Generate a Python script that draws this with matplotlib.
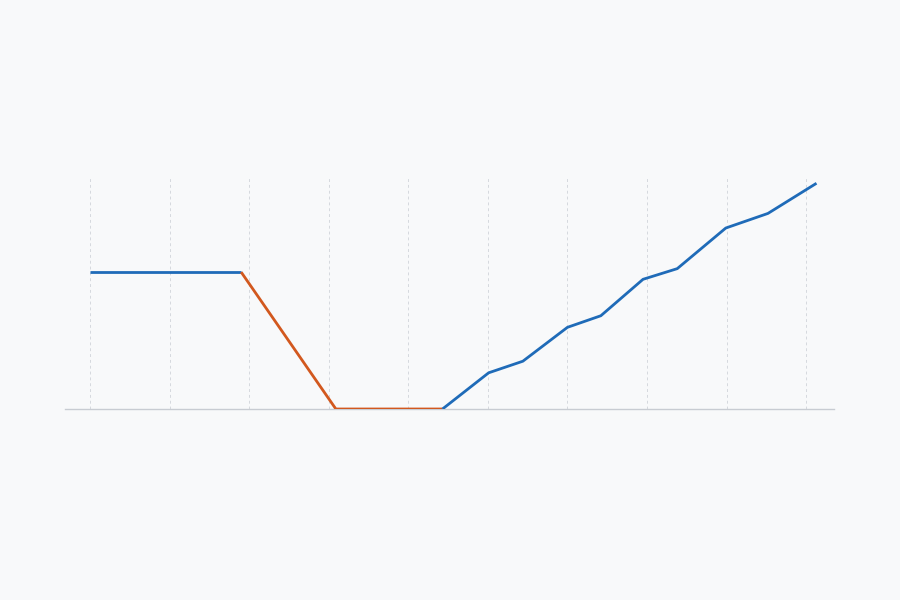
import matplotlib
matplotlib.use("Agg")
import matplotlib.pyplot as plt

# x positions in tick units (ticks at 0..9), y values in arbitrary units
blue1_x = [0.0, 1.9]
blue1_y = [5.9, 5.9]
orange_x = [1.9, 3.09, 4.43]
orange_y = [5.9, 0.0, 0.0]
blue2_x = [4.43, 5.01, 5.44, 6.0, 6.42, 6.95, 7.38, 7.99, 8.52, 9.13]
blue2_y = [0.0, 1.56, 2.06, 3.52, 4.02, 5.59, 6.05, 7.8, 8.43, 9.73]
grid_ticks = list(range(10))

BG = "#f8f9fa"
BLUE = "#1f6bb8"
ORANGE = "#d2581e"

fig = plt.figure(figsize=(9, 6), dpi=100, facecolor=BG)
ax = fig.add_axes([65/900, 1-409/600, (834-65)/900, (409-177)/600])
ax.set_facecolor(BG)

ax.plot(blue1_x, blue1_y, color=BLUE, lw=2.0, solid_capstyle="butt", zorder=3)
ax.plot(orange_x, orange_y, color=ORANGE, lw=2.0, solid_capstyle="butt", zorder=3)
ax.plot(blue2_x, blue2_y, color=BLUE, lw=2.0, solid_capstyle="butt", zorder=3)

ax.set_xlim(-0.314, 9.35)
ax.set_ylim(0, 10.0)
ax.set_xticks(grid_ticks)
ax.set_yticks([])
ax.grid(axis="x", color="#d5d9de", linestyle=(0, (3, 3)), lw=0.7)
ax.tick_params(axis="x", length=0, labelbottom=False)
for s in ["top", "right", "left"]:
    ax.spines[s].set_visible(False)
ax.spines["bottom"].set_color("#c8ccd2")
ax.spines["bottom"].set_linewidth(1.0)
ax.spines["bottom"].set_zorder(2)

fig.savefig("out.png", dpi=100, facecolor=BG)
